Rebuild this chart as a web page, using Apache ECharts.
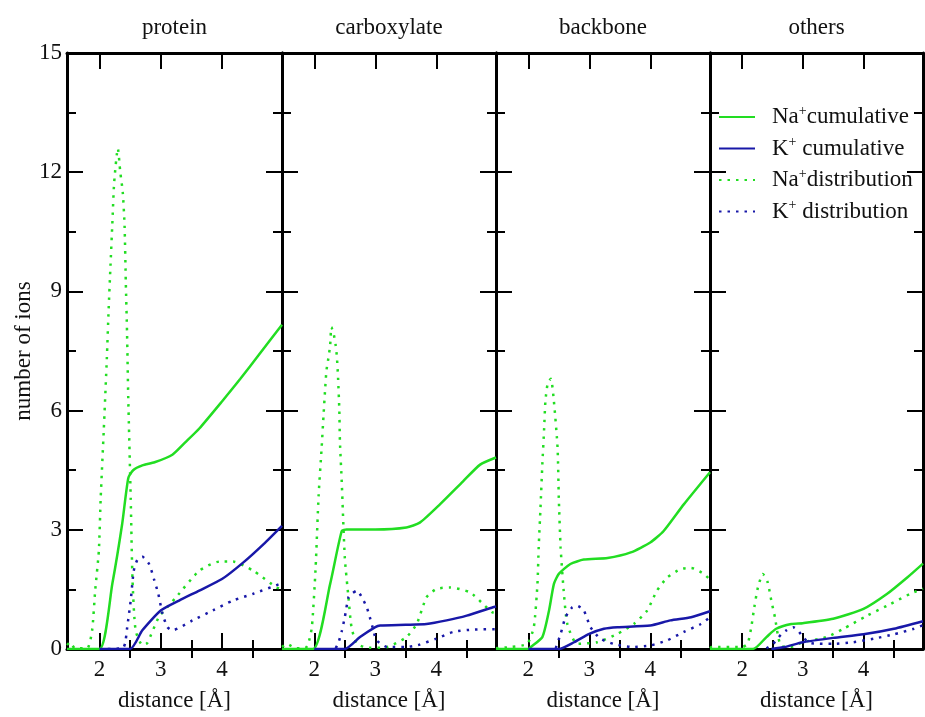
<!DOCTYPE html>
<html>
<head>
<meta charset="utf-8">
<title>number of ions</title>
<script src="https://cdn.jsdelivr.net/npm/echarts@6/dist/echarts.min.js"></script>
<style>
	html, body { margin: 0; padding: 0; background: #fff; }
	#chart { width: 925px; height: 717px; }
</style>
</head>
<body>
<div id="chart"></div>
<script>
// 面板标题与刻度
const panelTitles = ['protein', 'carboxylate', 'backbone', 'others'];
const xMajorTicks = [2, 3, 4];
const xMinorTicks = [2.5, 3.5, 4.5];
const seriesNames = ['Na+ cumulative', 'K+ cumulative', 'Na+ distribution', 'K+ distribution'];

// protein
const proteinNaCum = [[1.47, 0], [2.0, 0], [2.21, 1.64], [2.37, 3.14], [2.47, 4.3], [2.55, 4.5], [2.7, 4.62], [2.9, 4.7], [3.19, 4.89], [3.4, 5.2], [3.63, 5.55], [4.0, 6.23], [4.3, 6.8], [4.6, 7.4], [4.98, 8.16]];
const proteinKCum = [[2.0, 0], [2.5, 0], [2.7, 0.47], [3.0, 0.97], [3.3, 1.22], [3.63, 1.47], [4.0, 1.76], [4.35, 2.18], [4.68, 2.64], [4.98, 3.1]];
const proteinNaDist = [[1.47, 0.1], [1.52, 0.17], [1.6, 0.02], [1.8, 0.02], [1.88, 0.47], [1.93, 1.47], [1.99, 2.47], [2.02, 3.8], [2.07, 5.5], [2.12, 7.3], [2.15, 8.56], [2.18, 9.65], [2.21, 10.7], [2.24, 11.74], [2.3, 12.6], [2.34, 12.0], [2.38, 11.5], [2.41, 10.65], [2.43, 9.23], [2.45, 7.98], [2.47, 6.31], [2.51, 3.8], [2.54, 1.72], [2.59, 0.47], [2.7, 0.1], [2.78, 0.15], [2.97, 0.8], [3.25, 1.3], [3.63, 1.97], [3.96, 2.2], [4.18, 2.2], [4.51, 1.97], [4.89, 1.55], [4.98, 1.5]];
const proteinKDist = [[2.0, 0], [2.38, 0.02], [2.42, 0.15], [2.45, 0.51], [2.51, 1.22], [2.56, 1.97], [2.62, 2.25], [2.7, 2.32], [2.81, 2.14], [2.89, 1.76], [2.96, 1.39], [3.03, 0.88], [3.11, 0.55], [3.19, 0.47], [3.52, 0.72], [3.85, 0.97], [4.18, 1.22], [4.51, 1.39], [4.95, 1.64], [4.98, 1.66]];

// carboxylate
const carboxNaCum = [[1.47, 0], [1.98, 0], [2.26, 1.64], [2.45, 2.97], [2.53, 3.01], [3.0, 3.01], [3.51, 3.06], [3.73, 3.18], [4.06, 3.64], [4.44, 4.22], [4.72, 4.64], [4.98, 4.82]];
const carboxKCum = [[2.0, 0], [2.5, 0], [2.75, 0.3], [3.0, 0.55], [3.08, 0.59], [3.5, 0.61], [3.84, 0.63], [4.17, 0.72], [4.5, 0.84], [4.93, 1.05], [4.98, 1.07]];
const carboxNaDist = [[1.47, 0.05], [1.55, 0.13], [1.7, 0.02], [1.85, 0.02], [1.9, 0.13], [1.96, 0.55], [2.02, 2.0], [2.07, 3.85], [2.12, 5.06], [2.15, 5.85], [2.18, 6.6], [2.2, 7.02], [2.23, 7.31], [2.26, 7.65], [2.28, 8.1], [2.32, 7.91], [2.35, 7.65], [2.37, 7.36], [2.39, 6.81], [2.41, 6.02], [2.42, 5.23], [2.45, 4.2], [2.5, 2.3], [2.56, 1.3], [2.61, 0.55], [2.7, 0.13], [2.9, 0.03], [3.2, 0.05], [3.51, 0.3], [3.68, 0.63], [3.84, 1.3], [4.0, 1.51], [4.22, 1.55], [4.55, 1.43], [4.77, 1.13], [4.91, 0.93], [4.98, 0.9]];
const carboxKDist = [[2.35, 0.02], [2.39, 0.13], [2.45, 0.45], [2.5, 0.8], [2.56, 1.3], [2.61, 1.39], [2.7, 1.47], [2.78, 1.3], [2.86, 1.05], [2.91, 0.8], [2.97, 0.47], [3.02, 0.22], [3.2, 0.05], [3.5, 0.05], [3.7, 0.1], [4.0, 0.26], [4.28, 0.43], [4.61, 0.49], [4.98, 0.5]];

// backbone
const backboneNaCum = [[1.47, 0], [2.0, 0], [2.04, 0.05], [2.23, 0.3], [2.34, 0.97], [2.42, 1.64], [2.5, 1.89], [2.69, 2.14], [2.91, 2.25], [3.3, 2.29], [3.68, 2.43], [4.0, 2.68], [4.22, 2.97], [4.55, 3.64], [4.98, 4.45]];
const backboneKCum = [[2.0, 0], [2.5, 0], [2.75, 0.17], [3.0, 0.38], [3.24, 0.51], [3.46, 0.55], [4.0, 0.59], [4.33, 0.72], [4.67, 0.8], [4.98, 0.95]];
const backboneNaDist = [[1.47, 0.02], [1.71, 0.05], [1.98, 0.13], [2.09, 0.55], [2.15, 1.64], [2.17, 2.55], [2.2, 3.56], [2.23, 4.64], [2.26, 5.56], [2.28, 6.23], [2.32, 6.7], [2.37, 6.8], [2.42, 6.23], [2.48, 5.06], [2.5, 3.8], [2.53, 2.55], [2.58, 1.47], [2.64, 0.63], [2.8, 0.13], [3.13, 0.17], [3.46, 0.38], [3.73, 0.63], [3.95, 0.97], [4.11, 1.47], [4.28, 1.8], [4.5, 2.01], [4.67, 2.04], [4.88, 1.89], [4.98, 1.74]];
const backboneKDist = [[2.45, 0.02], [2.53, 0.38], [2.61, 0.8], [2.72, 1.05], [2.8, 1.09], [2.91, 0.97], [3.02, 0.55], [3.18, 0.26], [3.4, 0.13], [3.7, 0.05], [4.0, 0.09], [4.28, 0.22], [4.55, 0.43], [4.83, 0.63], [4.98, 0.8]];

// others
const othersNaCum = [[1.47, 0], [2.18, 0], [2.4, 0.3], [2.56, 0.51], [2.81, 0.63], [3.0, 0.65], [3.5, 0.76], [4.0, 1.01], [4.39, 1.39], [4.72, 1.8], [4.98, 2.15]];
const othersKCum = [[2.48, 0], [2.7, 0.05], [3.0, 0.17], [3.5, 0.28], [4.0, 0.37], [4.5, 0.51], [4.98, 0.7]];
const othersNaDist = [[1.47, 0.02], [1.5, 0.05], [2.0, 0.05], [2.09, 0.13], [2.15, 0.55], [2.2, 1.05], [2.26, 1.55], [2.34, 1.89], [2.42, 1.68], [2.48, 1.22], [2.54, 0.8], [2.59, 0.34], [2.64, 0.08], [2.8, 0.05], [3.0, 0.17], [3.39, 0.3], [3.67, 0.51], [4.06, 0.84], [4.44, 1.13], [4.77, 1.39], [4.98, 1.52]];
const othersKDist = [[2.4, 0.02], [2.51, 0.13], [2.65, 0.38], [2.73, 0.47], [2.84, 0.55], [2.92, 0.47], [3.0, 0.3], [3.12, 0.15], [3.5, 0.13], [3.83, 0.17], [4.17, 0.26], [4.5, 0.37], [4.83, 0.51], [4.98, 0.6]];

const panelData = [
	[proteinNaCum, proteinKCum, proteinNaDist, proteinKDist],
	[carboxNaCum, carboxKCum, carboxNaDist, carboxKDist],
	[backboneNaCum, backboneKCum, backboneNaDist, backboneKDist],
	[othersNaCum, othersKCum, othersNaDist, othersKDist],
];

const FONT = '"Liberation Serif", "DejaVu Serif", serif';
const GREEN = '#22dd22';
const BLUE = '#1818a8';
const XMIN = 1.47;
const XMAX = 4.98;

// 每个面板的位置
const grids = [
	{ left: 67, top: 53, width: 215, height: 599 },
	{ left: 282, top: 53, width: 214, height: 599 },
	{ left: 496, top: 53, width: 214, height: 599 },
	{ left: 710, top: 53, width: 213, height: 599 },
];

const axisLine = { show: true, onZero: false, lineStyle: { color: '#000', width: 3 } };
const tickStyle = { color: '#000', width: 2 };

function makeXAxis(gi, position, ticks, len, withLabel) {
	return {
		type: 'value',
		gridIndex: gi,
		position: position,
		min: XMIN,
		max: XMAX,
		axisLine: withLabel !== null ? axisLine : { show: false },
		axisTick: { show: true, inside: true, length: len, customValues: ticks, lineStyle: tickStyle },
		axisLabel: withLabel
			? { show: true, customValues: ticks, margin: 9, fontSize: 23, fontFamily: FONT, color: '#111' }
			: { show: false },
		splitLine: { show: false },
		name: withLabel ? 'distance [Å]' : '',
		nameLocation: 'middle',
		nameGap: 40,
		nameTextStyle: { fontSize: 23, fontFamily: FONT, color: '#111' },
	};
}

const xAxes = [];
const yAxes = [];
grids.forEach((g, gi) => {
	xAxes.push(makeXAxis(gi, 'bottom', xMajorTicks, 16, true));
	xAxes.push(makeXAxis(gi, 'bottom', xMinorTicks, 9, null));
	xAxes.push(makeXAxis(gi, 'top', xMajorTicks, 16, false));
	xAxes.push(makeXAxis(gi, 'top', xMinorTicks, 9, null));
	['left', 'right'].forEach((pos) => {
		const labelled = gi === 0 && pos === 'left';
		yAxes.push({
			type: 'value',
			gridIndex: gi,
			position: pos,
			min: 0,
			max: 15,
			interval: 3,
			axisLine: axisLine,
			axisTick: { show: true, inside: true, length: 16, lineStyle: tickStyle },
			minorTick: { show: true, splitNumber: 2, length: 9, lineStyle: tickStyle },
			axisLabel: labelled
				? { show: true, margin: 5, fontSize: 23, fontFamily: FONT, color: '#111' }
				: { show: false },
			splitLine: { show: false },
			name: labelled ? 'number of ions' : '',
			nameLocation: 'middle',
			nameGap: 23,
			nameTextStyle: { fontSize: 23, fontFamily: FONT, color: '#111' },
		});
	});
});

const series = [];
panelData.forEach((arrs, gi) => {
	arrs.forEach((data, si) => {
		const dotted = si >= 2;
		const color = si % 2 === 0 ? GREEN : BLUE;
		series.push({
			name: seriesNames[si],
			type: 'line',
			xAxisIndex: gi * 4,
			yAxisIndex: gi * 2,
			data: data,
			symbol: 'none',
			smooth: 0.2,
			z: dotted ? 2 : 3,
			lineStyle: { color: color, width: 2.5, type: dotted ? [2.5, 6] : 'solid' },
			itemStyle: { color: color },
		});
	});
});

// 图例文字（上标 +）
const legendText = {
	'Na+ cumulative': '{g|}{b|Na}{s|+}{b|cumulative}',
	'K+ cumulative': '{g|}{b|K}{s|+}{b| cumulative}',
	'Na+ distribution': '{g|}{b|Na}{s|+}{b|distribution}',
	'K+ distribution': '{g|}{b|K}{s|+}{b| distribution}',
};

const option = {
	animation: false,
	backgroundColor: '#fff',
	title: panelTitles.map((t, i) => ({
		text: t,
		left: grids[i].left + grids[i].width / 2,
		top: 16,
		padding: 0,
		textAlign: 'center',
		textStyle: { fontSize: 23, fontWeight: 'normal', fontFamily: FONT, color: '#111' },
	})),
	grid: grids.map((g) => Object.assign({ containLabel: false }, g)),
	xAxis: xAxes,
	yAxis: yAxes,
	legend: {
		data: seriesNames,
		orient: 'vertical',
		left: 718,
		top: 104,
		padding: 0,
		itemWidth: 36,
		itemHeight: 12,
		itemGap: 7,
		itemStyle: { opacity: 0 },
		formatter: (name) => legendText[name],
		textStyle: {
			fontSize: 23,
			fontFamily: FONT,
			color: '#111',
			rich: {
				g: { width: 12 },
				b: { fontSize: 23, fontFamily: FONT, color: '#111', lineHeight: 26 },
				s: { fontSize: 14, fontFamily: FONT, color: '#111', verticalAlign: 'top', lineHeight: 26 },
			},
		},
	},
	series: series,
};

const chart = echarts.init(document.getElementById('chart'));
chart.setOption(option);
</script>
</body>
</html>
